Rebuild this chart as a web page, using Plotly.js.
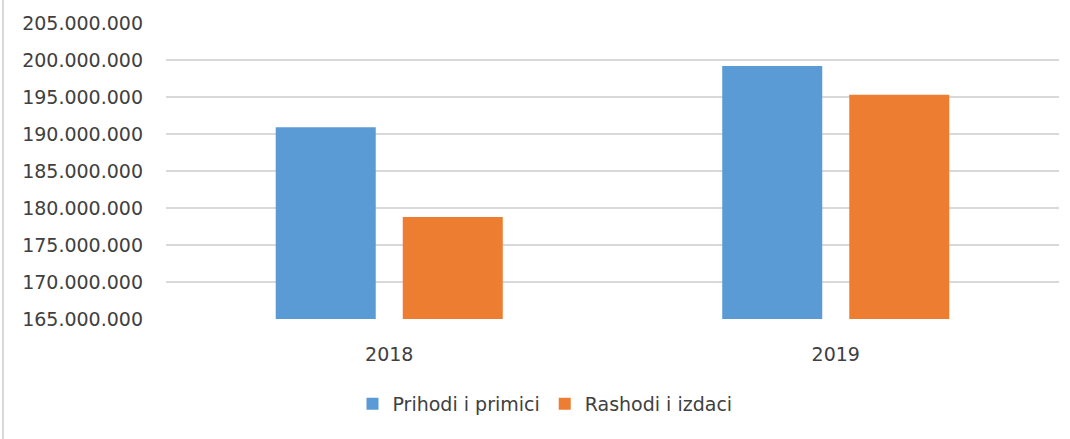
<!DOCTYPE html>
<html>
<head>
<meta charset="utf-8">
<script src="https://cdn.plot.ly/plotly-3.0.1.min.js"></script>
<style>html,body{margin:0;padding:0;background:#fff;}#chart{width:1070px;height:439px;}</style>
</head>
<body>
<div id="chart"></div>
<script>
const categories = ['2018', '2019'];
const seriesNames = ['Prihodi i primici', 'Rashodi i izdaci'];
const prihodi = [190900000, 199200000];
const rashodi = [178800000, 195300000];
const yTicks = [165000000, 170000000, 175000000, 180000000, 185000000, 190000000, 195000000, 200000000, 205000000];

const font = {family: 'DejaVu Sans, sans-serif', size: 19, color: '#404040'};

const traces = [
  {type: 'bar', name: seriesNames[0], x: categories, y: prihodi, marker: {color: '#5B9BD5'}},
  {type: 'bar', name: seriesNames[1], x: categories, y: rashodi, marker: {color: '#ED7D31'}}
];

const layout = {
  width: 1070, height: 439,
  margin: {l: 166, r: 11, t: 23, b: 120},
  paper_bgcolor: '#fff', plot_bgcolor: '#fff',
  separators: ',.',
  font: font,
  barmode: 'group',
  bargap: 0.431,
  bargroupgap: 0.2126,
  showlegend: true,
  legend: {orientation: 'h', x: 0.4244, xanchor: 'center', y: -0.287, yanchor: 'middle', font: font, itemwidth: 30, traceorder: 'normal'},
  xaxis: {type: 'category', showgrid: false, showline: false, zeroline: false, ticks: '', ticklabelstandoff: 22, tickfont: font},
  yaxis: {range: [165000000, 205000000], tickvals: yTicks, tickformat: ',d', showgrid: true, gridcolor: '#D9D9D9', gridwidth: 2, zeroline: false, showline: false, ticks: '', ticklabelstandoff: 22, tickfont: font},
  shapes: [
    {type: 'line', xref: 'paper', yref: 'paper', x0: (3 - 166) / 893, x1: (3 - 166) / 893, y0: -120 / 296, y1: 1 + 23 / 296, line: {color: '#D9D9D9', width: 2}}
  ]
};

Plotly.newPlot('chart', traces, layout, {displayModeBar: false, staticPlot: true});
</script>
</body>
</html>
